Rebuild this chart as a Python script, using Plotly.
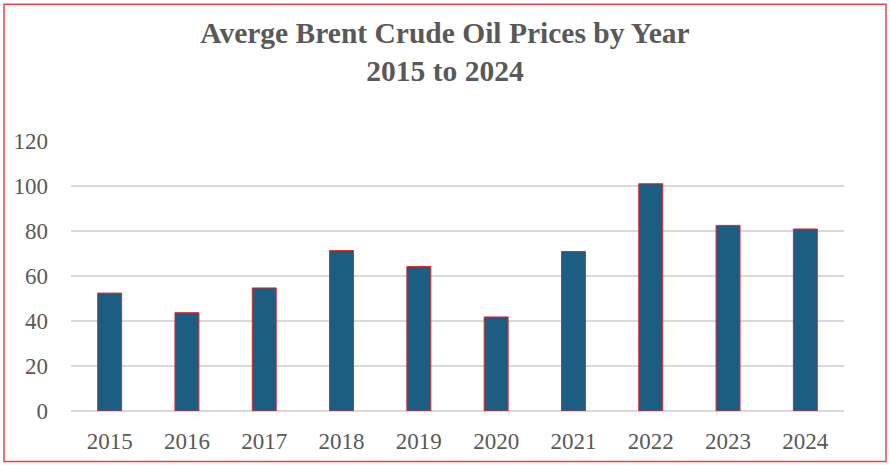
import plotly.graph_objects as go

# Annual average Brent crude price (USD per barrel)
years = ["2015", "2016", "2017", "2018", "2019", "2020", "2021", "2022", "2023", "2024"]
prices = [52.4, 43.7, 54.7, 71.3, 64.2, 41.8, 70.9, 101.0, 82.5, 80.9]
y_ticks = [0, 20, 40, 60, 80, 100, 120]

W, H = 890, 465
L, R, T, B = 71, 46, 141, 53.5
plot_w = W - L - R
plot_h = H - T - B

def px_x(px):
    return (px - L) / plot_w

def px_y(py):
    return (H - B - py) / plot_h

font_family = "Liberation Serif, Times New Roman, serif"
text_color = "#595959"

fig = go.Figure(
    go.Bar(
        x=years,
        y=prices,
        marker=dict(color="#1B5E82", line=dict(color="#E0262B", width=1)),
        width=0.31,
    )
)

fig.update_layout(
    width=W,
    height=H,
    margin=dict(l=L, r=R, t=T, b=B),
    paper_bgcolor="white",
    plot_bgcolor="white",
    showlegend=False,
    title=dict(
        text="<b>Averge Brent Crude Oil Prices by Year</b><br><b>2015 to 2024</b>",
        x=0.5,
        xanchor="center",
        y=1 - 43 / H,
        yanchor="middle",
        font=dict(family=font_family, size=29.5, color=text_color),
    ),
    font=dict(family=font_family, color=text_color),
    xaxis=dict(
        type="category",
        showgrid=False,
        showline=False,
        ticks="",
        tickfont=dict(size=23, color=text_color),
        ticklabelstandoff=14,
    ),
    yaxis=dict(
        range=[0, 120],
        tickvals=y_ticks,
        showgrid=True,
        gridcolor="#D9D9D9",
        gridwidth=1.5,
        zeroline=True,
        zerolinecolor="#D9D9D9",
        zerolinewidth=1.5,
        showline=False,
        ticks="",
        tickfont=dict(size=23, color=text_color),
        ticklabelstandoff=22,
    ),
    shapes=[
        dict(
            type="rect",
            xref="paper",
            yref="paper",
            x0=px_x(4),
            x1=px_x(886),
            y0=px_y(462),
            y1=px_y(4),
            line=dict(color="#E8454A", width=1.5),
            fillcolor="rgba(0,0,0,0)",
            layer="above",
        )
    ],
)

fig.write_html("out.html")
